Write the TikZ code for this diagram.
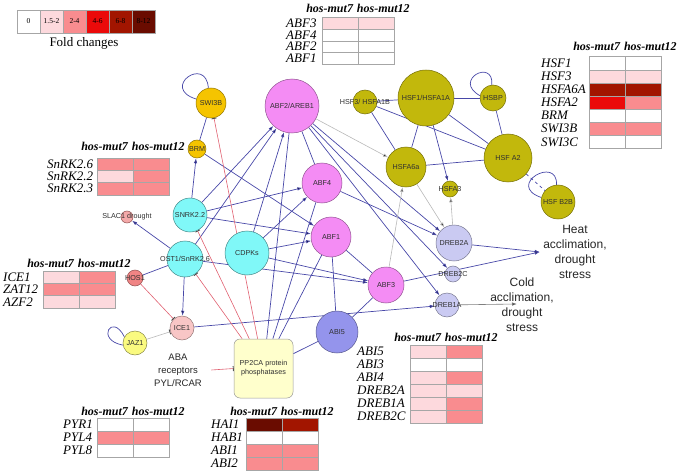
\documentclass[tikz,border=0pt]{standalone}
\usepackage{fontspec}
\setmainfont{Liberation Serif}
\setsansfont{Liberation Sans}
\usetikzlibrary{arrows.meta,backgrounds}

% fold-change scale
\definecolor{fcZ}{HTML}{FFFFFF}
\definecolor{fcA}{HTML}{FDD9DD}
\definecolor{fcB}{HTML}{F98C8F}
\definecolor{fcC}{HTML}{EB0A0A}
\definecolor{fcD}{HTML}{A21500}
\definecolor{fcE}{HTML}{6A0C00}
% network colours
\definecolor{linkblue}{HTML}{4848A8}
\definecolor{inhred}{HTML}{E06070}
\definecolor{linkgrey}{HTML}{B8B8B8}
\definecolor{labtext}{HTML}{303030}
\definecolor{swifill}{HTML}{F5C400}
\definecolor{abffill}{HTML}{F48CF4}
\definecolor{hsffill}{HTML}{C2B80C}
\definecolor{kinfill}{HTML}{80F8F8}
\definecolor{drebfill}{HTML}{CACAF2}
\definecolor{abifill}{HTML}{9494EC}
\definecolor{hosfill}{HTML}{F08484}
\definecolor{icefill}{HTML}{F8C6C6}
\definecolor{jazfill}{HTML}{FAFA80}
\definecolor{ppfill}{HTML}{FFFFCC}

\tikzset{
  fccell/.style={draw=black!35, line width=0.5pt},
  legnum/.style={font=\fontsize{7.5}{8}\selectfont, inner sep=0pt},
  legtitle/.style={font=\fontsize{13}{14}\selectfont, inner sep=0pt},
  fchead/.style={font=\fontsize{12}{12}\selectfont\bfseries\itshape, inner sep=0pt},
  fclabel/.style={anchor=west, font=\fontsize{13}{13}\selectfont\itshape, inner sep=0pt},
  gene/.style={circle, inner sep=0pt, line width=0.5pt},
  swi/.style={gene, fill=swifill, draw=swifill!60!black},
  abf/.style={gene, fill=abffill, draw=abffill!60!black},
  hsf/.style={gene, fill=hsffill, draw=hsffill!60!black},
  kin/.style={gene, fill=kinfill, draw=kinfill!55!black},
  dreb/.style={gene, fill=drebfill, draw=drebfill!60!black},
  abi/.style={gene, fill=abifill, draw=abifill!60!black},
  hos/.style={gene, fill=hosfill, draw=hosfill!60!black},
  ice/.style={gene, fill=icefill, draw=icefill!60!black},
  jaz/.style={gene, fill=jazfill, draw=jazfill!55!black},
  every label/.style={font=\sffamily\fontsize{7.2}{8}\selectfont, text=labtext, inner sep=0pt},
  ppbox/.style={rectangle, rounded corners=6pt, minimum width=59pt, minimum height=59pt,
    align=center, fill=ppfill, draw=black!40, line width=0.5pt, text=labtext,
    font=\sffamily\fontsize{7.2}{9}\selectfont},
  stress/.style={align=center, font=\sffamily\fontsize{12}{15}\selectfont, text=black!85},
  abatext/.style={align=center, font=\sffamily\fontsize{9.5}{13}\selectfont, text=black!85},
  link/.style={draw=linkblue, line width=0.7pt},
  act/.style={link, -{Latex[length=5pt,width=3.5pt,fill=black]}},
  gact/.style={draw=linkgrey, line width=0.6pt, -{Latex[length=5pt,width=3.5pt,fill=black]}},
  inh/.style={draw=inhred, line width=0.6pt, -{Bar[width=5pt,line width=0.9pt,color=black!70]}},
  ginh/.style={draw=linkgrey, line width=0.6pt, -{Bar[width=5pt,line width=0.9pt,color=black!70]}},
}

% #1 name, #2 label x, #3 cell x, #4 top y, #5 row height, #6 header y, #7 rows
\newcommand{\fctable}[7]{%
  \node[fchead] (#1-head) at ({#3+36},#6) {hos-mut7\hspace{4pt}hos-mut12};
  \foreach \lab/\ca/\cb [count=\i] in {#7} {
    \draw[fccell, fill=\ca] (#3,{#4+(\i-1)*#5}) rectangle ++(36,#5);
    \draw[fccell, fill=\cb] ({#3+36},{#4+(\i-1)*#5}) rectangle ++(36,#5);
    \node[fclabel] (#1-\i) at (#2,{#4+(\i-0.5)*#5}) {\lab};
  }
}

\begin{document}
\begin{tikzpicture}[x=1pt, y=-1pt]
  \useasboundingbox (0,0) rectangle (680,476);

  % legend
  \foreach \lab/\col [count=\i] in {0/fcZ, 1.5-2/fcA, 2-4/fcB, 4-6/fcC, 6-8/fcD, 8-12/fcE} {
    \draw[fccell, fill=\col] ({17+(\i-1)*23},10) rectangle ++(23,23);
    \node[legnum] (leg\i) at ({28.5+(\i-1)*23},21.5) {\lab};
  }
  \node[legtitle] (legtitle) at (84,43) {Fold changes};

  % fold-change tables
  \fctable{abft}{286}{322}{17.3}{11.75}{8}{ABF3/fcA/fcA, ABF4/fcZ/fcZ, ABF2/fcZ/fcZ, ABF1/fcZ/fcZ}
  \fctable{hsft}{541}{589}{56.7}{13.1}{46}{HSF1/fcZ/fcZ, HSF3/fcA/fcA, HSFA6A/fcD/fcD, HSFA2/fcC/fcB, BRM/fcZ/fcZ, SWI3B/fcB/fcB, SWI3C/fcZ/fcZ}
  \fctable{snrkt}{47}{97}{158}{12.3}{146}{SnRK2.6/fcB/fcB, SnRK2.2/fcA/fcB, SnRK2.3/fcB/fcB}
  \fctable{icet}{3}{43}{271}{12.3}{263}{ICE1/fcA/fcB, ZAT12/fcB/fcB, AZF2/fcA/fcA}
  \fctable{pyrt}{63}{97}{418}{13}{411}{PYR1/fcZ/fcZ, PYL4/fcB/fcB, PYL8/fcZ/fcZ}
  \fctable{hait}{211}{246}{418}{13}{411}{HAI1/fcE/fcD, HAB1/fcZ/fcZ, ABI1/fcB/fcB, ABI2/fcB/fcB}
  \fctable{abit}{357}{410}{345}{13}{337}{ABI5/fcA/fcB, ABI3/fcZ/fcZ, ABI4/fcA/fcB, DREB2A/fcA/fcA, DREB1A/fcA/fcB, DREB2C/fcA/fcB}

  % network nodes
  \node[swi, minimum size=30pt, label=center:SWI3B] (swi3b) at (211,103) {};
  \node[swi, minimum size=18pt, label=center:BRM] (brm) at (197,149) {};
  \node[abf, minimum size=54pt, label=center:ABF2/AREB1] (abf2) at (292,106) {};
  \node[abf, minimum size=40pt, label=center:ABF4] (abf4) at (322,183) {};
  \node[abf, minimum size=40pt, label=center:ABF1] (abf1) at (331,237) {};
  \node[abf, minimum size=36pt, label=center:ABF3] (abf3) at (386,285) {};
  \node[hsf, minimum size=24pt, label={center:HSF3/ HSFA1B}] (hsf3) at (365,102) {};
  \node[hsf, minimum size=56pt, label=center:HSF1/HSFA1A] (hsf1) at (426,98) {};
  \node[hsf, minimum size=26pt, label=center:HSBP] (hsbp) at (493,98) {};
  \node[hsf, minimum size=40pt, label=center:HSFA6a] (hsfa6a) at (406,167) {};
  \node[hsf, minimum size=48pt, label={center:HSF A2}] (hsfa2) at (508,158) {};
  \node[hsf, minimum size=16pt, label=center:HSFA3] (hsfa3) at (450,189) {};
  \node[hsf, minimum size=34pt, label={center:HSF B2B}] (hsfb2b) at (558,202) {};
  \node[kin, minimum size=34pt, label=center:SNRK2.2] (snrk22) at (190,215) {};
  \node[kin, minimum size=36pt, label=center:OST1/SnRK2.6] (ost1) at (185,259) {};
  \node[kin, minimum size=44pt, label=center:CDPKs] (cdpks) at (247,253) {};
  \node[hos, fill=hosfill!70, minimum size=12pt, label={center:SLAC1 drought}] (slac1) at (127,217) {};
  \node[hos, minimum size=16pt, label=center:HOS1] (hos1) at (135,278) {};
  \node[ice, minimum size=24pt, label=center:ICE1] (ice1) at (182,328) {};
  \node[jaz, minimum size=24pt, label=center:JAZ1] (jaz1) at (135,343) {};
  \node[abi, minimum size=42pt, label=center:ABI5] (abi5) at (337,332) {};
  \node[dreb, minimum size=36pt, label=center:DREB2A] (dreb2a) at (454,243) {};
  \node[dreb, minimum size=16pt, label=center:DREB2C] (dreb2c) at (453,274) {};
  \node[dreb, minimum size=24pt, label=center:DREB1A] (dreb1a) at (447,305) {};
  \node[ppbox] (pp2ca) at (263.5,368.5) {PP2CA protein\\phosphatases};
  \node[abatext] (aba) at (178,370) {ABA\\receptors\\PYL/RCAR};
  \node[stress] (heat) at (575,252) {Heat\\acclimation,\\drought\\stress};
  \node[stress] (cold) at (522,305) {Cold\\acclimation,\\drought\\stress};
  \coordinate (coldin) at (517,304);

  \begin{scope}[on background layer]
    % self loops
    \draw[link] (swi3b.100) .. controls (206,55) and (160,88) .. (swi3b.165);
    \draw[link] (hsbp.95) .. controls (494,58) and (452,80) .. (hsbp.170);
    \draw[link] (hsfb2b.95) .. controls (558,155) and (505,185) .. (hsfb2b.165);
    \draw[link] (jaz1.150) .. controls (112,312) and (95,340) .. (jaz1.190);
    % kinases
    \draw[link] (brm) -- (swi3b);
    \draw[act] (snrk22) -- (brm);
    \draw[act] (snrk22) -- (abf2);
    \draw[act] (snrk22) -- (abf4);
    \draw[act] (snrk22) -- (abf1);
    \draw[act] (brm) -- (abf1);
    \draw[act] (ost1) -- (abf2);
    \draw[act] (ost1) -- (slac1);
    \draw[act] (ost1) -- (ice1);
    \draw[act] (ost1) -- (abf3);
    \draw[act] (cdpks) -- (abf2);
    \draw[act] (cdpks) -- (abf4);
    \draw[act] (cdpks) -- (abf1);
    \draw[act] (cdpks) -- (abf3);
    \draw[link] (hos1) -- (ost1);
    \draw[act] (ice1) -- (dreb1a);
    % ABFs
    \draw[link] (abf2) -- (abf4);
    \draw[act] (abf2) -- (dreb2a);
    \draw[act] (abf2) -- (dreb2c);
    \draw[act] (abf2) -- (dreb1a);
    \draw[act] (abf4) -- (dreb2a);
    \draw[link] (abf1) -- (abi5);
    \draw[link] (abf1) -- (abf3);
    \draw[link] (abi5) -- (abf3);
    \draw[gact] (abf2) -- (hsfa6a);
    \draw[gact] (abf3) -- (hsfa6a);
    % PP2CA
    \draw[link] (pp2ca) -- (abf2);
    \draw[link] (pp2ca) -- (abf4);
    \draw[link] (pp2ca) -- (abf1);
    \draw[link] (pp2ca) -- (abi5);
    \draw[inh] (pp2ca) -- (swi3b);
    \draw[inh] (pp2ca) -- (snrk22);
    \draw[inh] (pp2ca) -- (ost1);
    \draw[inh] (hos1) -- (ice1);
    \draw[ginh] (jaz1) -- (ice1);
    \draw[inh] ([xshift=6pt]aba.east) -- (pp2ca.west);
    % heat shock factors
    \draw[link] (hsf3) -- (hsf1);
    \draw[link] (hsf3) -- (hsfa2);
    \draw[link] (hsf3) -- (hsfa6a);
    \draw[link] (hsf1) -- (hsbp);
    \draw[link] (hsf1) -- (hsfa6a);
    \draw[link] (hsf1) -- (hsfa2);
    \draw[act] (hsf1) -- (hsfa3);
    \draw[link] (hsbp) -- (hsfa2);
    \draw[link] (hsfa6a) -- (hsfa2);
    \draw[link, dashed] (hsfa2) -- (hsfb2b);
    \draw[gact] (hsfa6a) -- (dreb2a);
    \draw[gact] (dreb2a) -- (hsfa3);
    % outputs
    \draw[act] (dreb2a) -- (heat.west);
    \draw[act] (abf3) -- (heat.west);
    \draw[draw=black!50, line width=0.6pt, -{Latex[length=5pt,width=3.5pt,fill=black]}] (dreb1a) -- (coldin);
  \end{scope}
\end{tikzpicture}
\end{document}
